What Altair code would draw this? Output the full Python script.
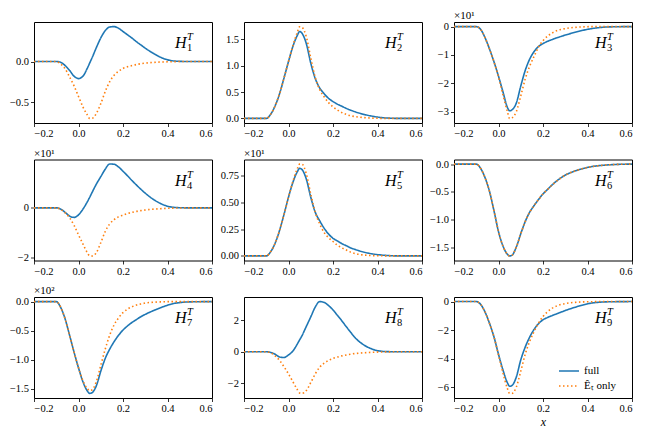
import altair as alt
import pandas as pd

X = [-0.2, -0.1, -0.08, -0.06, -0.04, -0.02, 0.0, 0.02, 0.04, 0.05, 0.06, 0.08, 0.10,
     0.12, 0.14, 0.16, 0.18, 0.20, 0.22, 0.24, 0.26, 0.28, 0.30, 0.34, 0.38, 0.42, 0.46, 0.50, 0.60]

H1_FULL = [0, 0, -0.01, -0.05, -0.11, -0.18, -0.21, -0.18, -0.08, -0.02, 0.04, 0.17, 0.29, 0.38, 0.425, 0.43,
           0.41, 0.37, 0.33, 0.29, 0.245, 0.205, 0.165, 0.095, 0.04, 0.01, 0.002, 0, 0]
H1_ET = [0, 0, -0.03, -0.09, -0.19, -0.30, -0.43, -0.56, -0.66, -0.70, -0.70, -0.64, -0.52, -0.37, -0.25, -0.17,
         -0.12, -0.085, -0.065, -0.05, -0.037, -0.027, -0.02, -0.01, -0.005, -0.002, 0, 0, 0]
H2_FULL = [0, 0, 0.08, 0.24, 0.47, 0.77, 1.08, 1.37, 1.58, 1.65, 1.62, 1.42, 1.05, 0.76, 0.58, 0.47,
           0.38, 0.32, 0.27, 0.23, 0.19, 0.155, 0.125, 0.075, 0.04, 0.015, 0.004, 0, 0]
H2_ET = [0, 0, 0.08, 0.24, 0.47, 0.77, 1.08, 1.38, 1.64, 1.74, 1.73, 1.55, 1.15, 0.78, 0.55, 0.41,
         0.30, 0.22, 0.16, 0.11, 0.075, 0.05, 0.035, 0.015, 0.005, 0.001, 0, 0, 0]
H3_FULL = [0, 0, -0.1, -0.4, -0.8, -1.25, -1.75, -2.3, -2.85, -2.97, -2.94, -2.7, -2.1, -1.55, -1.15, -0.88,
           -0.70, -0.60, -0.52, -0.46, -0.40, -0.35, -0.30, -0.21, -0.13, -0.07, -0.03, -0.01, 0]
H3_ET = [0, 0, -0.1, -0.4, -0.8, -1.25, -1.77, -2.4, -3.0, -3.24, -3.22, -3.0, -2.45, -1.85, -1.4, -1.05,
         -0.72, -0.50, -0.34, -0.23, -0.15, -0.10, -0.07, -0.03, -0.01, 0, 0, 0, 0]
H4_FULL = [0, 0, -0.05, -0.18, -0.33, -0.38, -0.28, -0.05, 0.25, 0.42, 0.6, 0.95, 1.25, 1.55, 1.76, 1.75,
           1.64, 1.47, 1.29, 1.1, 0.92, 0.75, 0.59, 0.32, 0.13, 0.03, 0.005, 0, 0]
H4_ET = [0, 0, -0.06, -0.2, -0.4, -0.7, -1.08, -1.45, -1.8, -1.92, -1.93, -1.8, -1.4, -0.95, -0.65, -0.47,
         -0.36, -0.29, -0.23, -0.18, -0.14, -0.11, -0.085, -0.05, -0.025, -0.01, -0.003, 0, 0]
H5_FULL = [0, 0, 0.04, 0.12, 0.24, 0.39, 0.55, 0.69, 0.79, 0.82, 0.81, 0.72, 0.55, 0.41, 0.33, 0.26,
           0.205, 0.165, 0.14, 0.115, 0.095, 0.075, 0.06, 0.035, 0.018, 0.008, 0.002, 0, 0]
H5_ET = [0, 0, 0.04, 0.12, 0.24, 0.39, 0.55, 0.70, 0.82, 0.86, 0.86, 0.77, 0.58, 0.41, 0.30, 0.22,
         0.17, 0.135, 0.10, 0.075, 0.055, 0.035, 0.022, 0.008, 0.003, 0.001, 0, 0, 0]
H6_FULL = [0, 0, -0.08, -0.25, -0.5, -0.85, -1.22, -1.48, -1.63, -1.66, -1.65, -1.5, -1.26, -1.04, -0.87, -0.75,
           -0.64, -0.54, -0.46, -0.38, -0.31, -0.25, -0.20, -0.13, -0.08, -0.045, -0.025, -0.012, 0]
H6_ET = [0, 0, -0.08, -0.25, -0.5, -0.85, -1.22, -1.48, -1.63, -1.66, -1.65, -1.5, -1.26, -1.04, -0.87, -0.75,
         -0.64, -0.54, -0.46, -0.38, -0.31, -0.25, -0.20, -0.13, -0.08, -0.045, -0.025, -0.012, 0]
H7_FULL = [0, 0, -0.1, -0.3, -0.58, -0.87, -1.14, -1.38, -1.54, -1.58, -1.57, -1.45, -1.2, -0.98, -0.82, -0.69,
           -0.58, -0.49, -0.42, -0.36, -0.31, -0.26, -0.22, -0.15, -0.09, -0.04, -0.015, -0.005, 0]
H7_ET = [0, 0, -0.1, -0.3, -0.58, -0.87, -1.14, -1.36, -1.5, -1.53, -1.52, -1.38, -1.1, -0.82, -0.58, -0.40,
         -0.28, -0.19, -0.13, -0.09, -0.06, -0.04, -0.025, -0.01, -0.004, 0, 0, 0, 0]
H8_FULL = [0, 0, -0.04, -0.16, -0.33, -0.36, -0.2, 0.05, 0.5, 0.75, 1.0, 1.6, 2.2, 2.82, 3.17, 3.12,
           2.92, 2.64, 2.3, 1.95, 1.58, 1.22, 0.88, 0.42, 0.15, 0.03, 0.005, 0, 0]
H8_ET = [0, 0, -0.06, -0.26, -0.55, -0.95, -1.4, -1.9, -2.4, -2.6, -2.63, -2.45, -1.95, -1.4, -0.98, -0.72,
         -0.55, -0.42, -0.33, -0.26, -0.2, -0.15, -0.11, -0.06, -0.03, -0.01, -0.003, 0, 0]
H9_FULL = [0, 0, -0.2, -0.75, -1.55, -2.5, -3.7, -4.8, -5.7, -5.95, -5.9, -5.3, -4.1, -3.2, -2.5, -1.95,
           -1.55, -1.28, -1.12, -0.99, -0.87, -0.75, -0.63, -0.42, -0.24, -0.1, -0.04, -0.015, 0]
H9_ET = [0, 0, -0.2, -0.75, -1.55, -2.5, -3.75, -5.0, -6.1, -6.45, -6.45, -6.0, -4.9, -3.7, -2.8, -2.1,
         -1.5, -1.05, -0.72, -0.48, -0.32, -0.21, -0.14, -0.06, -0.025, -0.01, 0, 0, 0]

FULL = [H1_FULL, H2_FULL, H3_FULL, H4_FULL, H5_FULL, H6_FULL, H7_FULL, H8_FULL, H9_FULL]
ET = [H1_ET, H2_ET, H3_ET, H4_ET, H5_ET, H6_ET, H7_ET, H8_ET, H9_ET]

SERIES = ["full", "Êₜ only"]
COLORS = ["#1f77b4", "#ff7f0e"]
SUBSCRIPTS = ["1", "2", "3", "4", "5", "6", "7", "8", "9"]
Y_DOMAINS = [[-0.757, 0.487], [-0.087, 1.83], [-3.40, 0.162], [-2.11, 1.94], [-0.043, 0.903],
             [-1.743, 0.083], [-1.659, 0.079], [-2.92, 3.46], [-6.77, 0.32]]
Y_TICKS = [[-0.5, 0.0], [0, 0.5, 1.0, 1.5], [-3, -2, -1, 0], [-2, 0], [0, 0.25, 0.5, 0.75],
           [-1.5, -1.0, -0.5, 0.0], [-1.5, -1.0, -0.5, 0.0], [-2, 0, 2], [-6, -4, -2, 0]]
Y_FORMATS = [".1f", ".1f", "d", "d", ".2f", ".1f", ".1f", "d", "d"]
OFFSETS = ["", "", "×10¹", "×10¹", "×10¹", "", "×10²", "", ""]
X_TICKS = [-0.2, 0.0, 0.2, 0.4, 0.6]

FONT = "Liberation Serif"
W, H = 178, 101

LEGEND = alt.Legend(orient="none", legendX=529, legendY=343, title=None, symbolType="M-2,0H2",
                    symbolSize=100, symbolStrokeWidth=1.6, labelFont=FONT, labelFontSize=11,
                    labelOffset=9, rowPadding=4, labelColor="#000")


def panel(i):
    n = len(X)
    df = pd.DataFrame({
        "x": X + X,
        "y": FULL[i] + ET[i],
        "series": [SERIES[0]] * n + [SERIES[1]] * n,
    })
    lines = alt.Chart(df).mark_line(interpolate="monotone", strokeWidth=1.6, clip=True).encode(
        x=alt.X("x:Q", scale=alt.Scale(domain=[-0.2, 0.6], nice=False, zero=False),
                axis=alt.Axis(values=X_TICKS, format=".1f", title="x" if i == 8 else None,
                              labelFont=FONT, titleFont=FONT, titleFontStyle="italic", titleFontSize=12,
                              titleFontWeight="normal", titlePadding=2)),
        y=alt.Y("y:Q", scale=alt.Scale(domain=Y_DOMAINS[i], nice=False, zero=False),
                axis=alt.Axis(values=Y_TICKS[i], format=Y_FORMATS[i], title=None, labelFont=FONT)),
        color=alt.Color("series:N", scale=alt.Scale(domain=SERIES, range=COLORS), legend=LEGEND),
        strokeDash=alt.StrokeDash("series:N", scale=alt.Scale(domain=SERIES, range=[[1, 0], [1.5, 2.5]]),
                                  legend=LEGEND),
    )
    label_df = pd.DataFrame({"a": ["H"], "b": ["T"], "c": [SUBSCRIPTS[i]], "o": [OFFSETS[i]]})
    base = alt.Chart(label_df)
    h = base.mark_text(font=FONT, fontSize=16, fontStyle="italic", align="left", baseline="alphabetic",
                       color="#000").encode(text="a:N", x=alt.value(141), y=alt.value(26))
    t = base.mark_text(font=FONT, fontSize=10.5, fontStyle="italic", align="left", baseline="alphabetic",
                       color="#000").encode(text="b:N", x=alt.value(153), y=alt.value(18))
    s = base.mark_text(font=FONT, fontSize=10.5, align="left", baseline="alphabetic",
                       color="#000").encode(text="c:N", x=alt.value(153), y=alt.value(29))
    layers = [lines, h, t, s]
    if OFFSETS[i]:
        o = base.mark_text(font=FONT, fontSize=11, align="left", baseline="bottom",
                           color="#000").encode(text="o:N", x=alt.value(0), y=alt.value(-1))
        layers.append(o)
    return alt.layer(*layers).properties(width=W, height=H)


rows = [alt.hconcat(*[panel(3 * r + c) for c in range(3)], spacing=32, bounds="flush") for r in range(3)]

chart = alt.vconcat(*rows, spacing=6.5, bounds="full").properties(
    padding={"left": 0, "top": 1, "right": 5, "bottom": 5}, background="white"
).configure(font=FONT).configure_view(stroke="#000", strokeWidth=1).configure_axis(
    grid=False, domain=False, tickColor="#000", tickSize=3.5, tickWidth=0.8,
    labelFont=FONT, labelFontSize=10.5, labelColor="#000", labelPadding=2
)

chart.save("out.html", embed_options={"renderer": "svg", "actions": False})
